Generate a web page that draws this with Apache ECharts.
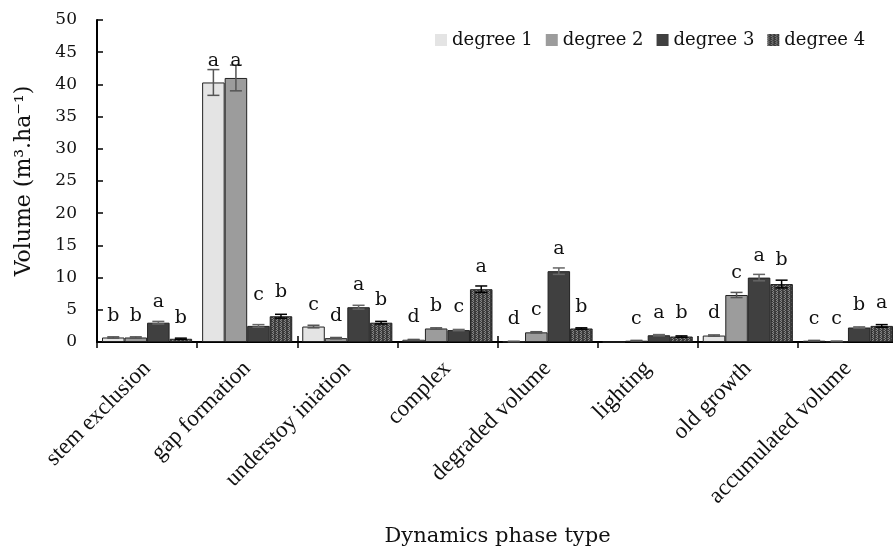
<!DOCTYPE html>
<html>
<head>
<meta charset="utf-8">
<script src="https://cdn.jsdelivr.net/npm/echarts@6/dist/echarts.min.js"></script>
<style>html,body{margin:0;padding:0;background:#fff}#c{width:893px;height:554px}</style>
</head>
<body>
<div id="c"></div>
<script>
const categories = ['stem exclusion','gap formation','understoy iniation','complex','degraded volume','lighting','old growth','accumulated volume'];
const seriesNames = ['degree 1','degree 2','degree 3','degree 4'];
const degree1 = [0.7, 40.3, 2.4, 0.35, 0.08, 0.0, 1.0, 0.2];
const degree2 = [0.7, 41.0, 0.6, 2.1, 1.5, 0.2, 7.3, 0.1];
const degree3 = [3.0, 2.5, 5.4, 1.85, 11.0, 1.05, 10.0, 2.25];
const degree4 = [0.5, 4.0, 3.0, 8.2, 2.1, 0.85, 9.0, 2.5];
const err1 = [0.1, 2.0, 0.2, 0.05, 0.03, 0.0, 0.1, 0.05];
const err2 = [0.1, 2.0, 0.1, 0.1, 0.1, 0.05, 0.4, 0.03];
const err3 = [0.2, 0.2, 0.3, 0.1, 0.5, 0.1, 0.5, 0.1];
const err4 = [0.1, 0.3, 0.2, 0.5, 0.1, 0.1, 0.6, 0.2];
const letters1 = ['b','a','c','d','d','','d','c'];
const letters2 = ['b','a','d','b','c','c','c','c'];
const letters3 = ['a','c','a','c','a','a','a','b'];
const letters4 = ['b','b','b','a','b','b','b','a'];
const letterY1 = [4.1, 43.6, 5.8, 3.85, 3.6, 0, 4.5, 3.6];
const letterY2 = [4.1, 43.6, 4.1, 5.6, 4.9, 3.6, 10.7, 3.6];
const letterY3 = [6.2, 7.3, 8.8, 5.4, 14.5, 4.5, 13.4, 5.7];
const letterY4 = [3.7, 7.8, 6.5, 11.7, 5.5, 4.5, 12.8, 6.0];
const yTicks = {min: 0, max: 50, interval: 5};

const values = [degree1, degree2, degree3, degree4];
const errs = [err1, err2, err3, err4];
const letters = [letters1, letters2, letters3, letters4];
const letterYs = [letterY1, letterY2, letterY3, letterY4];

// checkered pattern for degree 4
const pc = document.createElement('canvas');
pc.width = 4; pc.height = 4;
const px = pc.getContext('2d');
px.fillStyle = '#3a3a3a'; px.fillRect(0,0,4,4);
px.fillStyle = '#858585';
[[0,0],[2,0],[1,1],[3,1],[0,2],[2,2],[1,3],[3,3]].forEach(function(p, k){ if (k % 2 === 0) px.fillRect(p[0],p[1],1,1); });
px.fillStyle = '#5a5a5a';
[[1,0],[3,2]].forEach(function(p){ px.fillRect(p[0],p[1],1,1); });
const pattern = {image: pc, repeat: 'repeat'};

const fills = ['#e4e4e4', '#9c9c9c', '#404040', pattern];
const errColors = ['#555', '#555', '#666', '#000'];
const serif = 'DejaVu Serif';

const barSeries = seriesNames.map(function(n, s){
  return {
    name: n, type: 'bar', data: values[s],
    barGap: '0%', barCategoryGap: '10%',
    itemStyle: {color: fills[s], borderColor: '#222', borderWidth: 1},
    z: 2
  };
});

const errSeries = seriesNames.map(function(n, s){
  return {
    name: 'err' + s, type: 'custom', z: 5,
    data: categories.map(function(c, i){ return [i, values[s][i]]; }),
    renderItem: function(params, api){
      const i = params.dataIndex;
      const catW = api.size([1, 0])[0];
      const bw = catW * 0.9 / 4;
      const base = api.coord([i, 0]);
      const cx = base[0] + (s - 1.5) * bw;
      const v = values[s][i], e = errs[s][i];
      const children = [];
      if (e > 0) {
        const yt = api.coord([i, v + e])[1];
        const yb = api.coord([i, Math.max(0, v - e)])[1];
        const hw = 6;
        const st = {stroke: errColors[s], lineWidth: 1.5};
        children.push({type:'line', shape:{x1:cx, y1:yt, x2:cx, y2:yb}, style: st});
        children.push({type:'line', shape:{x1:cx-hw, y1:yt, x2:cx+hw, y2:yt}, style: st});
        children.push({type:'line', shape:{x1:cx-hw, y1:yb, x2:cx+hw, y2:yb}, style: st});
      }
      if (letters[s][i]) {
        const ly = api.coord([i, letterYs[s][i]])[1];
        children.push({type:'text', x: cx, y: ly, style:{text: letters[s][i], fill:'#111', font: '19px "' + serif + '"', textAlign:'center', textVerticalAlign:'middle'}});
      }
      return {type:'group', children: children};
    }
  };
});

const chart = echarts.init(document.getElementById('c'), null, {renderer: 'canvas'});
chart.setOption({
  animation: false,
  backgroundColor: '#fff',
  textStyle: {fontFamily: serif},
  legend: {
    data: seriesNames, left: 430, top: 26, itemWidth: 12, itemHeight: 12, itemGap: 13,
    icon: 'rect',
    itemStyle: {borderWidth: 0},
    textStyle: {fontFamily: serif, fontSize: 18, color: '#111'}
  },
  grid: {left: 97, top: 20, width: 801, bottom: 212, containLabel: false, outerBoundsMode: 'none'},
  xAxis: [{
    type: 'category', data: categories,
    axisLine: {lineStyle: {color: '#000', width: 2}},
    axisTick: {show: true, length: 6, lineStyle: {color: '#000', width: 1.5}},
    axisLabel: {rotate: 45, margin: 23, interval: 0, fontFamily: 'Liberation Serif', fontSize: 23, color: '#111'},
    name: 'Dynamics phase type', nameLocation: 'middle', nameGap: 184,
    nameTextStyle: {fontFamily: serif, fontSize: 21, color: '#111'}
  }, {
    type: 'category', data: categories, position: 'bottom',
    axisLine: {show: false},
    axisTick: {show: true, inside: true, length: 6, lineStyle: {color: '#000', width: 1.5}},
    axisLabel: {show: false}
  }],
  yAxis: {
    type: 'value', min: yTicks.min, max: yTicks.max, interval: yTicks.interval,
    axisLine: {show: true, lineStyle: {color: '#000', width: 2}},
    axisTick: {show: true, inside: true, length: 6, lineStyle: {color: '#000', width: 1.5}},
    splitLine: {show: false},
    axisLabel: {margin: 20, fontFamily: serif, fontSize: 17, color: '#111'},
    name: 'Volume (m³.ha⁻¹)', nameLocation: 'middle', nameGap: 40,
    nameTextStyle: {fontFamily: serif, fontSize: 22, color: '#111', padding: [0,0,22,0]}
  },
  series: barSeries.concat(errSeries)
});
</script>
</body>
</html>
